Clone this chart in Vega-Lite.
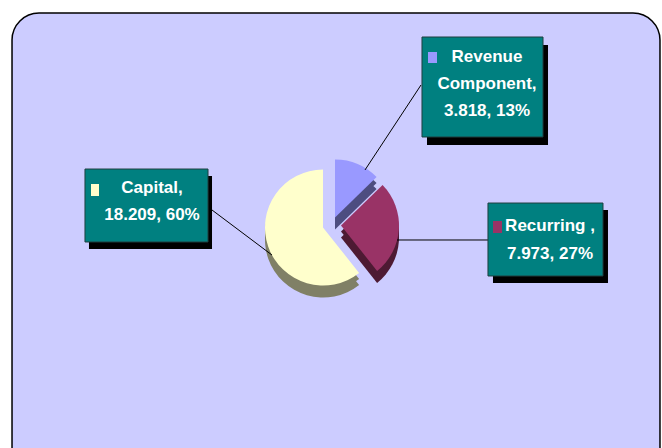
{
  "$schema": "https://vega.github.io/schema/vega-lite/v6.json",
  "autosize": {"type": "fit", "contains": "padding"},
  "width": 662,
  "height": 448,
  "padding": {"left": 10, "top": 11, "right": 0, "bottom": 0},
  "background": "white",
  "config": {"view": {"stroke": null, "fill": null}},
  "data": {"values": [
    {"name": "Revenue Component", "value": 3.818, "pct": 13, "order": 1},
    {"name": "Recurring", "value": 7.973, "pct": 27, "order": 2},
    {"name": "Capital", "value": 18.209, "pct": 60, "order": 3}
  ]},
  "transform": [
    {"stack": "value", "groupby": [], "sort": [{"field": "order"}], "as": ["v0", "v1"]},
    {"calculate": "format(datum.value, '.3f') + ', ' + datum.pct + '%'", "as": "tail"}
  ],
  "layer": [
    {
      "transform": [{"filter": "datum.order == 1"}],
      "mark": {"type": "rect", "fill": "#CCCCFF", "stroke": "#000000", "strokeWidth": 1.5, "cornerRadius": 27, "clip": true},
      "encoding": {
        "x": {"datum": 0.31, "type": "quantitative", "scale": {"domain": [0, 100], "nice": false, "zero": false}, "axis": null},
        "x2": {"datum": 99.69},
        "y": {"datum": 0.46, "type": "quantitative", "scale": {"domain": [0, 100], "nice": false, "zero": false, "reverse": true}, "axis": null},
        "y2": {"datum": 115}
      }
    },
    {
      "transform": [{"filter": "datum.order == 1"}],
      "mark": {"type": "arc", "radius": 58, "fill": "#4D4D80", "xOffset": -1, "yOffset": -6},
      "encoding": {"theta": {"field": "v0", "type": "quantitative", "scale": {"domain": [0, 30]}}, "theta2": {"field": "v1"}}
    },
    {
      "transform": [{"filter": "datum.order == 1"}],
      "mark": {"type": "arc", "radius": 58, "fill": "#4D4D80", "xOffset": -1, "yOffset": 0},
      "encoding": {"theta": {"field": "v0", "type": "quantitative", "scale": {"domain": [0, 30]}}, "theta2": {"field": "v1"}}
    },
    {
      "transform": [{"filter": "datum.order == 2"}],
      "mark": {"type": "arc", "radius": 58, "fill": "#4D1A33", "xOffset": 5, "yOffset": 2},
      "encoding": {"theta": {"field": "v0", "type": "quantitative", "scale": {"domain": [0, 30]}}, "theta2": {"field": "v1"}}
    },
    {
      "transform": [{"filter": "datum.order == 2"}],
      "mark": {"type": "arc", "radius": 58, "fill": "#4D1A33", "xOffset": 5, "yOffset": 8},
      "encoding": {"theta": {"field": "v0", "type": "quantitative", "scale": {"domain": [0, 30]}}, "theta2": {"field": "v1"}}
    },
    {
      "transform": [{"filter": "datum.order == 3"}],
      "mark": {"type": "arc", "radius": 58, "fill": "#808066", "xOffset": -13, "yOffset": 4},
      "encoding": {"theta": {"field": "v0", "type": "quantitative", "scale": {"domain": [0, 30]}}, "theta2": {"field": "v1"}}
    },
    {
      "transform": [{"filter": "datum.order == 3"}],
      "mark": {"type": "arc", "radius": 58, "fill": "#808066", "xOffset": -13, "yOffset": 10},
      "encoding": {"theta": {"field": "v0", "type": "quantitative", "scale": {"domain": [0, 30]}}, "theta2": {"field": "v1"}}
    },
    {
      "transform": [{"filter": "datum.order == 1"}],
      "mark": {"type": "arc", "radius": 58, "xOffset": -1, "yOffset": -12},
      "encoding": {
        "theta": {"field": "v0", "type": "quantitative", "scale": {"domain": [0, 30]}}, "theta2": {"field": "v1"},
        "color": {"field": "name", "type": "nominal", "scale": {"domain": ["Revenue Component", "Recurring", "Capital"], "range": ["#9999FF", "#993366", "#FFFFCC"]}, "legend": null}
      }
    },
    {
      "transform": [{"filter": "datum.order == 2"}],
      "mark": {"type": "arc", "radius": 58, "xOffset": 5, "yOffset": -4},
      "encoding": {
        "theta": {"field": "v0", "type": "quantitative", "scale": {"domain": [0, 30]}}, "theta2": {"field": "v1"},
        "color": {"field": "name", "type": "nominal", "scale": {"domain": ["Revenue Component", "Recurring", "Capital"], "range": ["#9999FF", "#993366", "#FFFFCC"]}, "legend": null}
      }
    },
    {
      "transform": [{"filter": "datum.order == 3"}],
      "mark": {"type": "arc", "radius": 58, "xOffset": -13, "yOffset": -2},
      "encoding": {
        "theta": {"field": "v0", "type": "quantitative", "scale": {"domain": [0, 30]}}, "theta2": {"field": "v1"},
        "color": {"field": "name", "type": "nominal", "scale": {"domain": ["Revenue Component", "Recurring", "Capital"], "range": ["#9999FF", "#993366", "#FFFFCC"]}, "legend": null}
      }
    },
    {
      "transform": [{"filter": "datum.order == 1"}],
      "mark": {"type": "rule", "color": "#000000", "strokeWidth": 1},
      "encoding": {"x": {"datum": 54.45, "type": "quantitative"}, "x2": {"datum": 63.04}, "y": {"datum": 36.38, "type": "quantitative"}, "y2": {"datum": 16.93}}
    },
    {
      "transform": [{"filter": "datum.order == 2"}],
      "mark": {"type": "rule", "color": "#000000", "strokeWidth": 1},
      "encoding": {"x": {"datum": 59.36, "type": "quantitative"}, "x2": {"datum": 73.31}, "y": {"datum": 52.4, "type": "quantitative"}, "y2": {"datum": 52.4}}
    },
    {
      "transform": [{"filter": "datum.order == 3"}],
      "mark": {"type": "rule", "color": "#000000", "strokeWidth": 1},
      "encoding": {"x": {"datum": 30.37, "type": "quantitative"}, "x2": {"datum": 40.18}, "y": {"datum": 44.85, "type": "quantitative"}, "y2": {"datum": 55.84}}
    },
    {
      "transform": [{"filter": "datum.order == 1"}],
      "mark": {"type": "rect", "fill": "#000000", "xOffset": 5, "x2Offset": 5, "yOffset": 8, "y2Offset": 8},
      "encoding": {"x": {"datum": 63.19, "type": "quantitative"}, "x2": {"datum": 81.75}, "y": {"datum": 5.95, "type": "quantitative"}, "y2": {"datum": 28.83}}
    },
    {
      "transform": [{"filter": "datum.order == 2"}],
      "mark": {"type": "rect", "fill": "#000000", "xOffset": 5, "x2Offset": 5, "yOffset": 7, "y2Offset": 7},
      "encoding": {"x": {"datum": 73.31, "type": "quantitative"}, "x2": {"datum": 90.95}, "y": {"datum": 43.94, "type": "quantitative"}, "y2": {"datum": 60.64}}
    },
    {
      "transform": [{"filter": "datum.order == 3"}],
      "mark": {"type": "rect", "fill": "#000000", "xOffset": 4, "x2Offset": 4, "yOffset": 7, "y2Offset": 7},
      "encoding": {"x": {"datum": 11.5, "type": "quantitative"}, "x2": {"datum": 30.37}, "y": {"datum": 36.16, "type": "quantitative"}, "y2": {"datum": 52.86}}
    },
    {
      "transform": [{"filter": "datum.order == 1"}],
      "mark": {"type": "rect", "fill": "#008080", "stroke": "#1F3F3F", "strokeWidth": 1},
      "encoding": {"x": {"datum": 63.19, "type": "quantitative"}, "x2": {"datum": 81.75}, "y": {"datum": 5.95, "type": "quantitative"}, "y2": {"datum": 28.83}}
    },
    {
      "transform": [{"filter": "datum.order == 2"}],
      "mark": {"type": "rect", "fill": "#008080", "stroke": "#1F3F3F", "strokeWidth": 1},
      "encoding": {"x": {"datum": 73.31, "type": "quantitative"}, "x2": {"datum": 90.95}, "y": {"datum": 43.94, "type": "quantitative"}, "y2": {"datum": 60.64}}
    },
    {
      "transform": [{"filter": "datum.order == 3"}],
      "mark": {"type": "rect", "fill": "#008080", "stroke": "#1F3F3F", "strokeWidth": 1},
      "encoding": {"x": {"datum": 11.5, "type": "quantitative"}, "x2": {"datum": 30.37}, "y": {"datum": 36.16, "type": "quantitative"}, "y2": {"datum": 52.86}}
    },
    {
      "transform": [{"filter": "datum.order == 1"}],
      "mark": {"type": "rect", "fill": "#9999FF"},
      "encoding": {"x": {"datum": 64.11, "type": "quantitative"}, "x2": {"datum": 65.49}, "y": {"datum": 9.38, "type": "quantitative"}, "y2": {"datum": 11.9}}
    },
    {
      "transform": [{"filter": "datum.order == 2"}],
      "mark": {"type": "rect", "fill": "#993366"},
      "encoding": {"x": {"datum": 74.08, "type": "quantitative"}, "x2": {"datum": 75.46}, "y": {"datum": 48.05, "type": "quantitative"}, "y2": {"datum": 50.8}}
    },
    {
      "transform": [{"filter": "datum.order == 3"}],
      "mark": {"type": "rect", "fill": "#FFFFCC"},
      "encoding": {"x": {"datum": 12.42, "type": "quantitative"}, "x2": {"datum": 13.65}, "y": {"datum": 39.59, "type": "quantitative"}, "y2": {"datum": 42.33}}
    },
    {
      "transform": [
        {"filter": "datum.order == 1"},
        {"calculate": "[split(datum.name, ' ')[0], split(datum.name, ' ')[1] + ',', datum.tail]", "as": "lines"}
      ],
      "mark": {"type": "text", "align": "center", "baseline": "middle", "font": "Liberation Sans", "fontSize": 17, "fontWeight": "bold", "color": "#FFFFFF", "lineHeight": 27},
      "encoding": {"x": {"datum": 73.16, "type": "quantitative"}, "y": {"datum": 10.53, "type": "quantitative"}, "text": {"field": "lines"}}
    },
    {
      "transform": [
        {"filter": "datum.order == 2"},
        {"calculate": "[datum.name + ' ,', datum.tail]", "as": "lines"}
      ],
      "mark": {"type": "text", "align": "center", "baseline": "middle", "font": "Liberation Sans", "fontSize": 17, "fontWeight": "bold", "color": "#FFFFFF", "lineHeight": 28},
      "encoding": {"x": {"datum": 82.82, "type": "quantitative"}, "y": {"datum": 49.2, "type": "quantitative"}, "text": {"field": "lines"}}
    },
    {
      "transform": [
        {"filter": "datum.order == 3"},
        {"calculate": "[datum.name + ',', datum.tail]", "as": "lines"}
      ],
      "mark": {"type": "text", "align": "center", "baseline": "middle", "font": "Liberation Sans", "fontSize": 17, "fontWeight": "bold", "color": "#FFFFFF", "lineHeight": 27},
      "encoding": {"x": {"datum": 21.78, "type": "quantitative"}, "y": {"datum": 40.5, "type": "quantitative"}, "text": {"field": "lines"}}
    }
  ]
}
